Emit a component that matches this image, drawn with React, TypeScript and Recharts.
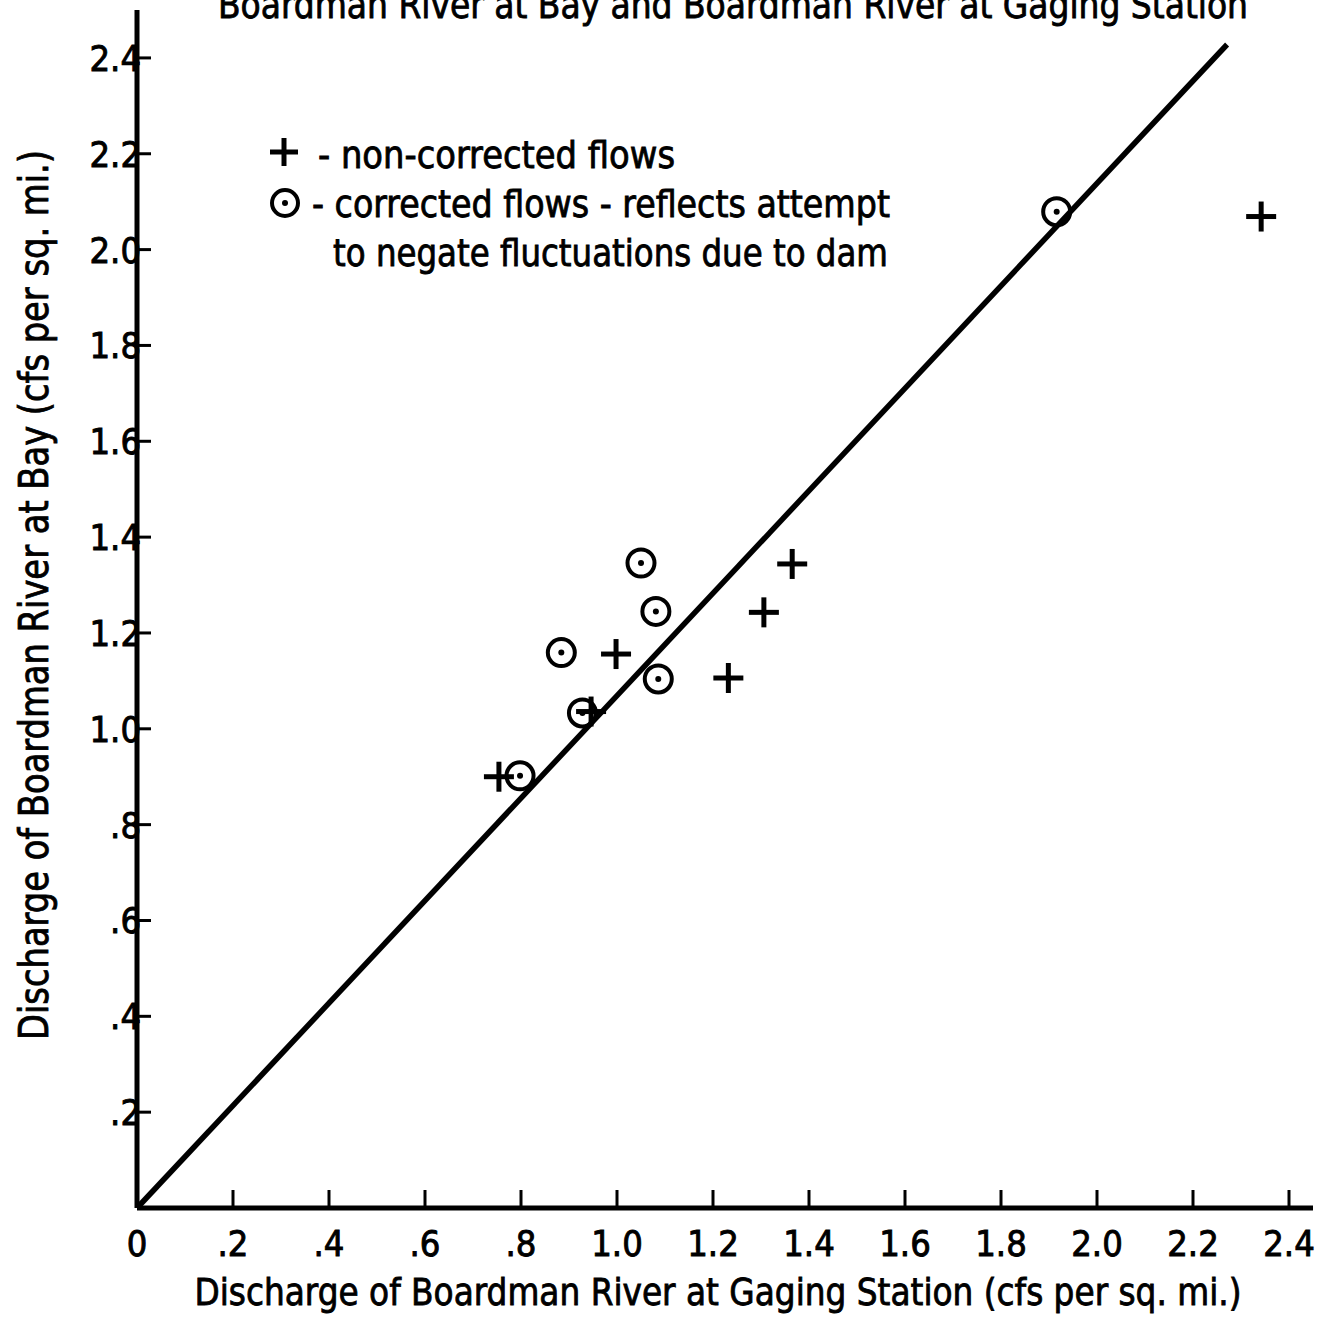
import React from "react"
import { ScatterChart, Scatter, XAxis, YAxis, ReferenceLine, Customized } from "recharts"

// non-corrected flows (+)
const plainX = [0.754, 0.946, 0.998, 1.232, 1.306, 1.365, 2.342]
const plainY = [0.9, 1.036, 1.156, 1.106, 1.243, 1.344, 2.069]

// corrected flows (circle with dot)
const corrX = [0.798, 0.928, 0.884, 1.05, 1.081, 1.086, 1.916]
const corrY = [0.902, 1.033, 1.159, 1.346, 1.245, 1.104, 2.079]

// the straight line drawn through the points
const fitX = [0, 2.271]
const fitY = [0, 2.428]

const xTicks = [0, 0.2, 0.4, 0.6, 0.8, 1.0, 1.2, 1.4, 1.6, 1.8, 2.0, 2.2, 2.4]
const yTicks = [0.2, 0.4, 0.6, 0.8, 1.0, 1.2, 1.4, 1.6, 1.8, 2.0, 2.2, 2.4]

const title = "Boardman River at Bay and Boardman River at Gaging Station"
const xTitle = "Discharge of Boardman River at Gaging Station (cfs per sq. mi.)"
const yTitle = "Discharge of Boardman River at Bay (cfs per sq. mi.)"
const legendPlain = "- non-corrected flows"
const legendCorr = "- corrected flows - reflects attempt"
const legendCorr2 = "to negate fluctuations due to dam"

const plainData = plainX.map((x, i) => ({ x, y: plainY[i] }))
const corrData = corrX.map((x, i) => ({ x, y: corrY[i] }))

const FONT = "'DejaVu Sans Condensed', 'Liberation Sans Narrow', 'DejaVu Sans', sans-serif"

const fmt = (v: number) => {
  if (v === 0) return "0"
  if (v < 1) return "." + Math.round(v * 10)
  return v.toFixed(1)
}

const PlusShape = (props: any) => {
  const { cx, cy } = props
  return (
    <g stroke="#000" strokeWidth={5}>
      <line x1={cx - 15} y1={cy} x2={cx + 15} y2={cy} />
      <line x1={cx} y1={cy - 15} x2={cx} y2={cy + 15} />
    </g>
  )
}

const CircleShape = (props: any) => {
  const { cx, cy } = props
  return (
    <g>
      <circle cx={cx} cy={cy} r={13.5} fill="none" stroke="#000" strokeWidth={4} />
      <circle cx={cx} cy={cy} r={3} fill="#000" />
    </g>
  )
}

const XTick = (props: any) => {
  const { x, y, payload } = props
  return (
    <g>
      <line x1={x} y1={y} x2={x} y2={y - 18} stroke="#000" strokeWidth={3} />
      <text x={x} y={y + 48} textAnchor="middle" fontFamily={FONT} fontSize={36} fill="#000" stroke="#000" strokeWidth={0.9}>
        {fmt(payload.value)}
      </text>
    </g>
  )
}

const YTick = (props: any) => {
  const { x, y, payload } = props
  return (
    <g>
      <line x1={x} y1={y} x2={x + 14} y2={y} stroke="#000" strokeWidth={3} />
      <text x={x + 4} y={y + 13} textAnchor="end" fontFamily={FONT} fontSize={36} fill="#000" stroke="#000" strokeWidth={0.9}>
        {fmt(payload.value)}
      </text>
    </g>
  )
}

const Texts = () => (
  <g fontFamily={FONT} fill="#000">
    <g stroke="#000" strokeWidth={0.8}>
      <text x={733} y={18} textAnchor="middle" fontSize={38} textLength={1030} lengthAdjust="spacingAndGlyphs">
        {title}
      </text>
      <text x={718} y={1305} textAnchor="middle" fontSize={38} textLength={1047} lengthAdjust="spacingAndGlyphs">
        {xTitle}
      </text>
      <text
        x={0}
        y={0}
        transform="translate(48,595) rotate(-90)"
        textAnchor="middle"
        fontSize={40}
        textLength={890}
        lengthAdjust="spacingAndGlyphs"
      >
        {yTitle}
      </text>
      <text x={318} y={168} fontSize={38} textLength={357} lengthAdjust="spacingAndGlyphs">
        {legendPlain}
      </text>
      <text x={312} y={217} fontSize={38} textLength={578} lengthAdjust="spacingAndGlyphs">
        {legendCorr}
      </text>
      <text x={333} y={266} fontSize={38} textLength={555} lengthAdjust="spacingAndGlyphs">
        {legendCorr2}
      </text>
    </g>
    <g stroke="#000" strokeWidth={5}>
      <line x1={270} y1={152} x2={298} y2={152} />
      <line x1={284} y1={138} x2={284} y2={166} />
    </g>
    <circle cx={285} cy={203} r={13} fill="none" stroke="#000" strokeWidth={4} />
    <circle cx={285} cy={203} r={3} fill="#000" />
  </g>
)

export default function App() {
  return (
    <div style={{ position: "absolute", left: 0, top: 0, background: "#fff" }}>
      <ScatterChart width={1325} height={1324} margin={{ top: 10, right: 12, bottom: 0, left: 0 }}>
        <XAxis
          type="number"
          dataKey="x"
          domain={[0, 2.45]}
          ticks={xTicks}
          interval={0}
          height={116}
          tickSize={0}
          tickMargin={0}
          tickLine={false}
          axisLine={{ stroke: "#000", strokeWidth: 5 }}
          tick={<XTick />}
          allowDataOverflow
        />
        <YAxis
          type="number"
          dataKey="y"
          domain={[0, 2.5]}
          ticks={yTicks}
          interval={0}
          width={137}
          tickSize={0}
          tickMargin={0}
          tickLine={false}
          axisLine={{ stroke: "#000", strokeWidth: 5 }}
          tick={<YTick />}
          allowDataOverflow
        />
        <ReferenceLine
          segment={[
            { x: fitX[0], y: fitY[0] },
            { x: fitX[1], y: fitY[1] },
          ]}
          stroke="#000"
          strokeWidth={5.5}
          ifOverflow="visible"
        />
        <Scatter data={plainData} shape={<PlusShape />} isAnimationActive={false} />
        <Scatter data={corrData} shape={<CircleShape />} isAnimationActive={false} />
        <Customized component={Texts} />
      </ScatterChart>
    </div>
  )
}
